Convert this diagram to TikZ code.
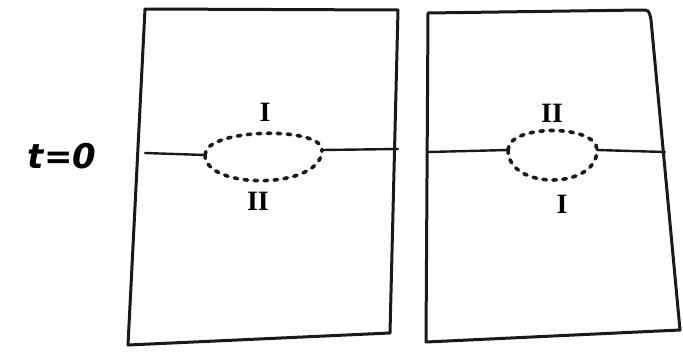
\documentclass[tikz,border=0pt]{standalone}
\usepackage{fontspec}
\setmainfont{Liberation Serif}
\newfontfamily\handfont{DejaVu Sans}
\begin{document}
\begin{tikzpicture}[x=1pt,y=-1pt,
  frame/.style={line width=3pt,line join=round,line cap=round,draw=black!90},
  wire/.style={line width=2.4pt,line cap=round,draw=black!90},
  loop/.style={line width=3.6pt,line cap=round,dash pattern=on 3.5pt off 6.5pt,draw=black!90},
  roman/.style={font=\fontsize{28}{28}\selectfont\bfseries,inner sep=0pt},
  lbl/.style={font=\handfont\fontsize{34}{34}\selectfont\bfseries\itshape,inner sep=0pt}]
\useasboundingbox (0,0) rectangle (683,351);
% left frame
\coordinate (A1) at (145,9);
\coordinate (A2) at (398,10);
\coordinate (A3) at (390,333);
\coordinate (A4) at (128,345);
\draw[frame] (A1) -- (A2) -- (A3) -- (A4) -- cycle;
% right frame
\coordinate (B1) at (428,13);
\coordinate (B2) at (641,10);
\coordinate (B2b) at (651,20);
\coordinate (B3) at (680,330);
\coordinate (B4) at (426,342);
\draw[frame] (B1) -- (B2) .. controls (649,10) .. (B2b) -- (B3) -- (B4) -- cycle;
% left loop
\coordinate (LL0) at (145,153);
\coordinate (LL) at (205,155);
\coordinate (LR) at (322,150);
\coordinate (LR0) at (398,149);
\draw[wire] (LL0) -- (LL);
\draw[wire] (LR) -- (LR0);
\draw[loop] (LL) .. controls (205,128) and (322,126) .. (LR);
\draw[loop] (LL) .. controls (205,190) and (322,190) .. (LR);
\node[roman] (LI) at (265,112) {I};
\node[roman] (LII) at (258,201) {II};
% right loop
\coordinate (RL0) at (428,152);
\coordinate (RL) at (508,150);
\coordinate (RR) at (597,150);
\coordinate (RR0) at (665,152);
\draw[wire] (RL0) -- (RL);
\draw[wire] (RR) -- (RR0);
\draw[loop] (RL) .. controls (508,124) and (597,124) .. (RR);
\draw[loop] (RL) .. controls (508,190) and (597,190) .. (RR);
\node[roman] (RII) at (552,113) {II};
\node[roman] (RI) at (562,204) {I};
% time label
\node[lbl] (T) at (62,156) {t=0};
\end{tikzpicture}
\end{document}
